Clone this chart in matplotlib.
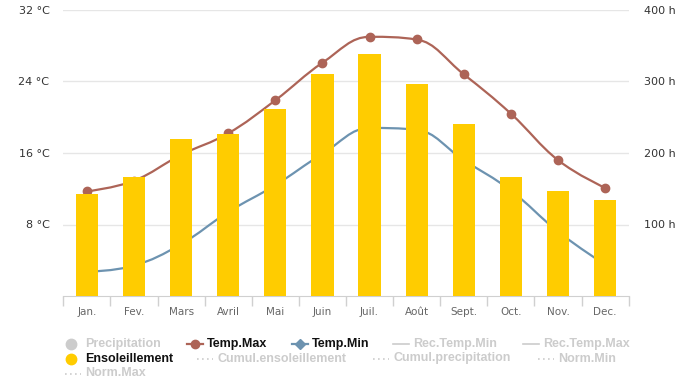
import matplotlib
matplotlib.use("Agg")
import matplotlib.pyplot as plt
from matplotlib.path import Path
from matplotlib.patches import PathPatch
from matplotlib.lines import Line2D
import numpy as np

# monthly climate values
months = ["Jan.", "Fev.", "Mars", "Avril", "Mai", "Juin",
          "Juil.", "Août", "Sept.", "Oct.", "Nov.", "Dec."]
temp_max = [11.7, 12.9, 15.8, 18.2, 21.9, 26.1, 29.0, 28.7, 24.8, 20.4, 15.2, 12.1]
temp_min = [2.7, 3.4, 5.8, 9.4, 12.4, 15.9, 18.8, 18.6, 15.2, 11.8, 7.2, 3.5]
sunshine = [142, 167, 219, 226, 262, 311, 338, 296, 240, 167, 147, 134]

temp_ticks = [8, 16, 24, 32]
sun_ticks = [100, 200, 300, 400]

MAX_COL = "#ad6457"
MIN_COL = "#6d93b0"
BAR_COL = "#ffcc00"
OFF_COL = "#cccccc"
AXIS_COL = "#d0d0d0"


def spline_path(xs, ys):
    # highcharts style spline: bezier control points around each point
    n = len(xs)
    left = [None] * n
    right = [None] * n
    sm = 1.5
    for i in range(1, n - 1):
        px, py = xs[i], ys[i]
        lx, ly = xs[i - 1], ys[i - 1]
        nx, ny = xs[i + 1], ys[i + 1]
        lcx = (sm * px + lx) / (sm + 1)
        lcy = (sm * py + ly) / (sm + 1)
        rcx = (sm * px + nx) / (sm + 1)
        rcy = (sm * py + ny) / (sm + 1)
        corr = (rcy - lcy) * (rcx - px) / (rcx - lcx) + py - rcy
        lcy += corr
        rcy += corr
        if lcy > ly and lcy > py:
            lcy = max(ly, py); rcy = 2 * py - lcy
        elif lcy < ly and lcy < py:
            lcy = min(ly, py); rcy = 2 * py - lcy
        if rcy > ny and rcy > py:
            rcy = max(ny, py); lcy = 2 * py - rcy
        elif rcy < ny and rcy < py:
            rcy = min(ny, py); lcy = 2 * py - rcy
        left[i] = (lcx, lcy)
        right[i] = (rcx, rcy)
    verts = [(xs[0], ys[0])]
    codes = [Path.MOVETO]
    for i in range(1, n):
        c1 = right[i - 1] if right[i - 1] else (xs[i - 1], ys[i - 1])
        c2 = left[i] if left[i] else (xs[i], ys[i])
        verts += [c1, c2, (xs[i], ys[i])]
        codes += [Path.CURVE4] * 3
    return Path(verts, codes)


x = np.arange(len(months))

fig = plt.figure(figsize=(6.87, 3.87), dpi=100)
ax = fig.add_axes([63.3 / 687, 1 - 296 / 387, (628.7 - 63.3) / 687, 286 / 387])
ax2 = ax.twinx()

# temperature lines (drawn under the bars)
ax.add_patch(PathPatch(spline_path(x, temp_min), fill=False, edgecolor=MIN_COL, lw=1.6, zorder=2))
ax.add_patch(PathPatch(spline_path(x, temp_max), fill=False, edgecolor=MAX_COL, lw=1.6, zorder=2))
ax.plot(x, temp_max, "o", color=MAX_COL, markersize=6, zorder=3)

ax.set_xlim(-0.5, len(months) - 0.5)
ax.set_ylim(0, 32)
ax.set_yticks(temp_ticks)
ax.set_yticklabels([f"{t} °C" for t in temp_ticks])
ax.grid(axis="y", color="#e6e6e6", lw=1)
ax.set_axisbelow(True)

ax.set_xticks(x)
ax.set_xticklabels(months)
ax.set_xticks(np.arange(len(months) + 1) - 0.5, minor=True)
ax.tick_params(axis="x", which="major", length=0, pad=8, labelsize=7.5, labelcolor="#666666")
ax.tick_params(axis="x", which="minor", length=7.5, color=AXIS_COL, width=1)
ax.tick_params(axis="y", length=0, pad=10, labelsize=8, labelcolor="#333333")

# sunshine bars on the right axis
ax2.bar(x, sunshine, width=0.47, color=BAR_COL, zorder=3)
ax2.set_ylim(0, 400)
ax2.set_yticks(sun_ticks)
ax2.set_yticklabels([f"{s} h" for s in sun_ticks])
ax2.tick_params(axis="y", length=0, pad=11, labelsize=8, labelcolor="#333333")

for a in (ax, ax2):
    for side in ("top", "left", "right", "bottom"):
        a.spines[side].set_visible(False)
ax.spines["bottom"].set_visible(True)
ax.spines["bottom"].set_color(AXIS_COL)

# legend drawn by hand, Highcharts style
legend_items = [
    ("Precipitation", "dot", OFF_COL, False, 65, 0),
    ("Temp.Max", "line_o", MAX_COL, True, 187, 0),
    ("Temp.Min", "line_d", MIN_COL, True, 292, 0),
    ("Rec.Temp.Min", "line", OFF_COL, False, 393, 0),
    ("Rec.Temp.Max", "line", OFF_COL, False, 523, 0),
    ("Ensoleillement", "dot", BAR_COL, True, 65, 1),
    ("Cumul.ensoleillement", "dotted", OFF_COL, False, 197, 1),
    ("Cumul.precipitation", "dotted", OFF_COL, False, 373, 1),
    ("Norm.Min", "dotted", OFF_COL, False, 538, 1),
    ("Norm.Max", "dotted", OFF_COL, False, 65, 2),
]
row_y = [343.5, 358.5, 373.5]


def fx(px):
    return px / 687


def fy(py):
    return 1 - py / 387


for label, kind, col, active, sx, row in legend_items:
    yy = fy(row_y[row])
    if kind == "dot":
        fig.add_artist(Line2D([fx(sx + 5.5)], [yy], marker="o", markersize=7.5,
                              color=col, transform=fig.transFigure))
    else:
        ls = (0, (1, 2)) if kind == "dotted" else "-"
        fig.add_artist(Line2D([fx(sx), fx(sx + 16)], [yy, yy], color=col, lw=1.6 if active else 1.2,
                              linestyle=ls, transform=fig.transFigure))
        if kind == "line_o":
            fig.add_artist(Line2D([fx(sx + 8)], [yy], marker="o", markersize=6, color=col,
                                  transform=fig.transFigure))
        elif kind == "line_d":
            fig.add_artist(Line2D([fx(sx + 8)], [yy], marker="D", markersize=5, color=col,
                                  transform=fig.transFigure))
    fig.text(fx(sx + 20), yy, label, fontsize=9, fontweight="bold",
             family=["Liberation Sans", "DejaVu Sans"],
             color="#111111" if active else OFF_COL, va="center", ha="left")

fig.savefig("out.png", dpi=100)
